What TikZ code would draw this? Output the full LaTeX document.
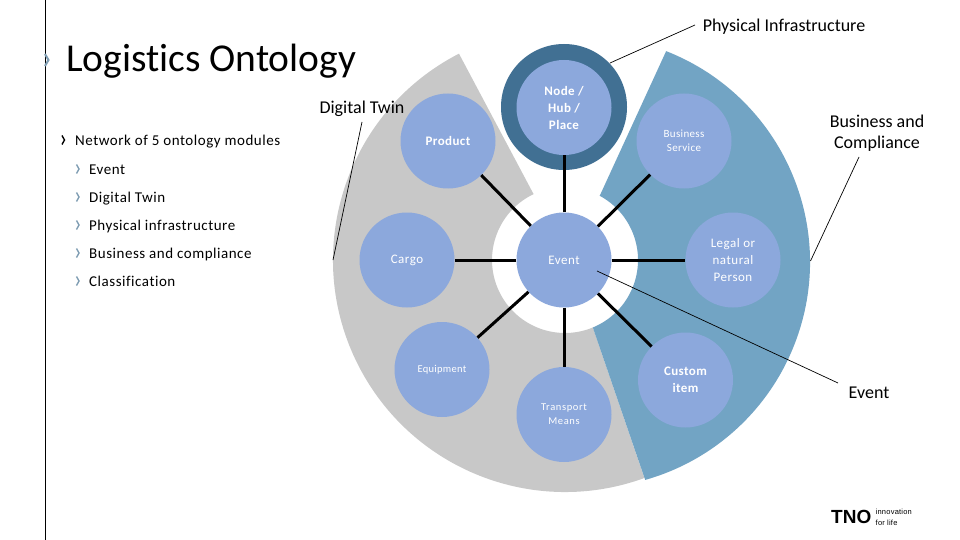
\documentclass[tikz,border=0pt]{standalone}
\usepackage{fontspec}
\usetikzlibrary{calc}
\setmainfont{Carlito}[Ligatures=NoCommon]
\newfontfamily\logofont{Liberation Sans}
\definecolor{wedgegray}{HTML}{C8C8C8}
\definecolor{wedgeblue}{HTML}{72A4C4}
\definecolor{circblue}{HTML}{8CA8DC}
\definecolor{ringblue}{HTML}{417093}
\definecolor{chevblue}{HTML}{7F9DB3}
\tikzset{
  x=1pt,y=1pt,
  mod/.style={circle,fill=circblue,text=white,minimum size=95pt,inner sep=0pt,align=center,font=\fontsize{13}{17}\selectfont\addfontfeature{LetterSpace=4}},
  strongmod/.style={mod,font=\fontsize{13}{17}\selectfont\bfseries\addfontfeature{LetterSpace=3}},
  smallmod/.style={mod,font=\fontsize{11}{14}\selectfont\addfontfeature{LetterSpace=3}},
  link/.style={line width=3pt,black},
  leader/.style={line width=0.7pt,black},
  callout/.style={font=\fontsize{18}{21}\selectfont,text=black,align=center,inner sep=0pt},
  bulletitem/.style={anchor=west,inner sep=0pt,text=black,font=\fontsize{15}{17}\selectfont\addfontfeature{LetterSpace=3.5}},
  chev/.style={line width=1.4pt,chevblue},
  chevdark/.style={line width=1.4pt,black},
  tagline/.style={anchor=west,inner sep=0pt,text=black,font=\logofont\fontsize{7.5}{9}\selectfont\addfontfeature{LetterSpace=3}},
}
\begin{document}
\begin{tikzpicture}
\useasboundingbox (0,0) rectangle (960,-540);
\fill[white] (0,0) rectangle (960,-540);
\coordinate (c) at (565,-260);
\coordinate (c2) at (583.5,-262);
% wedges
\fill[wedgegray] ($(c)+(117.2:232pt)$) arc[start angle=117.2,end angle=290,radius=232pt]
  -- ($(c)+(292.4:73pt)$) arc[start angle=292.4,end angle=115.5,radius=73pt] -- cycle;
\fill[wedgeblue] ($(c2)+(68.6:226.5pt)$) arc[start angle=68.6,end angle=-74.2,radius=226.5pt]
  -- ($(c)+(-67.6:73pt)$) arc[start angle=-67.6,end angle=61.6,radius=73pt] -- cycle;
% left rule
\draw[line width=1pt,black] (45,0) -- (45,-540);
% title and list
\node[anchor=west,inner sep=0pt,font=\fontsize{39.5}{42}\selectfont,text=black] (title) at (66,-61) {Logistics Ontology};
\draw[chev,line width=2pt] (45,-54) -- (48.5,-60) -- (45,-66);
\node[bulletitem] (b0) at (75,-141.5) {Network of 5 ontology modules};
\node[bulletitem] (b1) at (89,-170) {Event};
\node[bulletitem] (b2) at (89,-198.5) {Digital Twin};
\node[bulletitem] (b3) at (89,-226) {Physical infrastructure};
\node[bulletitem] (b4) at (89,-254.5) {Business and compliance};
\node[bulletitem] (b5) at (89,-281.5) {Classification};
\draw[chevdark] (62,-135.5) -- (64.5,-140) -- (62,-144.5);
\foreach \yy in {169,197,225,253,281}
  \draw[chev] (76.5,-\yy+4.5) -- (79,-\yy) -- (76.5,-\yy-4.5);
% ring and circles
\fill[ringblue] (564,-107) circle[radius=63pt];
\node[strongmod] (node) at (564,-107.5) {Node /\\Hub /\\Place};
\node[strongmod] (product) at (448,-141) {Product};
\node[smallmod] (business) at (684,-141) {Business\\Service};
\node[mod] (event) at (564,-260) {\raisebox{-1pt}{Event}};
\node[mod] (cargo) at (407,-260) {\raisebox{-1.5pt}{Cargo}};
\node[mod] (legal) at (733,-260) {Legal or\\natural\\Person};
\node[smallmod,font=\fontsize{10.5}{14}\selectfont\addfontfeature{LetterSpace=3}] (equipment) at (442,-369.5) {\raisebox{-1pt}{Equipment}};
\node[smallmod,font=\fontsize{10.5}{14}\selectfont\addfontfeature{LetterSpace=6}] (transport) at (564,-414.5) {Transport\\Means};
\node[strongmod] (custom) at (685.5,-380) {Custom\\item};
% links
\foreach \m in {node,product,business,cargo,legal,equipment,transport,custom}
  \draw[link] (event) -- (\m);
% callouts
\node[callout] (lphys) at (784,-27) {Physical Infrastructure};
\node[callout] (ltwin) at (362,-109) {Digital Twin};
\node[callout] (lbus) at (877,-133) {Business and\\Compliance};
\node[callout] (levent) at (869,-393) {Event};
\coordinate (aphys) at (695,-25);
\coordinate (ephys) at (610,-63);
\coordinate (atwin) at (362,-122);
\coordinate (etwin) at (333,-260);
\coordinate (abus) at (859,-157);
\coordinate (ebus) at (810.5,-261);
\coordinate (aevent) at (838,-383);
\coordinate (eevent) at (597,-271);
\draw[leader] (aphys) -- (ephys);
\draw[leader] (atwin) -- (etwin);
\draw[leader] (abus) -- (ebus);
\draw[leader] (aevent) -- (eevent);
% logo
\node[anchor=west,inner sep=0pt,text=black,font=\logofont\fontsize{19}{18}\selectfont\bfseries] (tno) at (831,-517) {TNO};
\node[tagline] (tag1) at (875.5,-511.5) {innovation};
\node[tagline] (tag2) at (875.5,-523) {for life};
\end{tikzpicture}
\end{document}
